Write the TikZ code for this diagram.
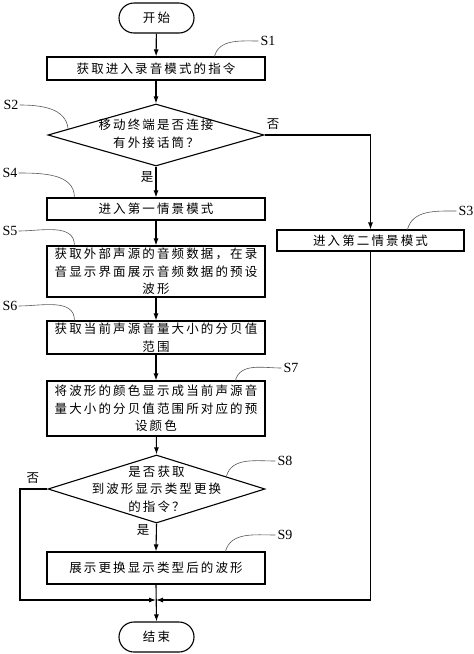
\documentclass[tikz,border=0pt]{standalone}
\usepackage{fontspec}
\setmainfont{Liberation Serif}
\newfontfamily\cjk[LetterSpace=17]{Noto Sans CJK SC}
\usetikzlibrary{shapes.geometric,arrows.meta,calc}
\begin{document}
\begin{tikzpicture}[x=1pt,y=1pt,
 box/.style={draw,line width=1.1pt,minimum width=218pt,inner sep=0pt},
 term/.style={draw,line width=1.1pt,rounded corners=15pt,minimum width=75pt,minimum height=30pt,inner sep=0pt},
 dia/.style={draw,diamond,line width=1.1pt,inner sep=0pt},
 txt/.style={font=\cjk\fontsize{12.5}{17.5}\selectfont,align=center,inner sep=0pt},
 lab/.style={font=\fontsize{14}{14}\selectfont,inner sep=0pt},
 lead/.style={draw=black!65,line width=0.6pt},
 arr/.style={draw,line width=1.1pt,-{Latex[length=7pt,width=5pt]}},
]
\useasboundingbox (0,0) rectangle (474,-654);

% nodes
\node[term,txt] (start) at (156.5,-18) {开始};
\node[box,txt,minimum height=23pt] (s1) at (156,-68.5) {获取进入录音模式的指令};
\node[dia,minimum width=216pt,minimum height=62pt] (s2) at (156,-135) {};
\node[txt] (t2) at (156,-134) {移动终端是否连接\\有外接话筒？};
\node[box,txt,minimum width=187pt,minimum height=21pt] (s3) at (370.5,-240.5) {进入第二情景模式};
\node[box,txt,minimum height=22pt] (s4) at (156,-209) {进入第一情景模式};
\node[box,txt,minimum height=51pt] (s5) at (156,-271.5) {获取外部声源的音频数据，在录\\音显示界面展示音频数据的预设\\波形};
\node[box,txt,minimum height=33pt] (s6) at (156,-337.5) {获取当前声源音量大小的分贝值\\范围};
\node[box,txt,minimum height=55pt] (s7) at (156,-408.5) {将波形的颜色显示成当前声源音\\量大小的分贝值范围所对应的预\\设颜色};
\node[dia,minimum width=217pt,minimum height=68pt] (s8) at (156.5,-489) {};
\node[txt] (t8) at (156.5,-489) {是否获取\\到波形显示类型更换\\的指令？};
\node[box,txt,minimum height=32pt] (s9) at (156,-568) {展示更换显示类型后的波形};
\node[term,txt] (end) at (156.5,-637) {结束};

% branch labels
\node[txt] (no2) at (273,-124) {否};
\node[txt] (yes2) at (147,-177) {是};
\node[txt] (no8) at (33,-478) {否};
\node[txt] (yes8) at (143,-530) {是};

% step labels
\node[lab] (ls1) at (268,-41) {S1};
\node[lab] (ls2) at (11,-105) {S2};
\node[lab] (ls3) at (466,-211) {S3};
\node[lab] (ls4) at (10,-173) {S4};
\node[lab] (ls5) at (10,-231) {S5};
\node[lab] (ls6) at (10,-306) {S6};
\node[lab] (ls7) at (291,-368) {S7};
\node[lab] (ls8) at (285,-461) {S8};
\node[lab] (ls9) at (285,-535) {S9};

% leader curves
\draw[lead] ([xshift=168pt]s1.north west) to[out=75,in=180] ([xshift=-2pt]ls1.west);
\draw[lead] ([xshift=1pt]ls2.east) to[out=0,in=95] ($(s2.west)!0.19!(s2.north)$);
\draw[lead] ([xshift=131pt]s3.north west) to[out=75,in=180] ([xshift=-2pt]ls3.west);
\draw[lead] ([xshift=1pt]ls4.east) to[out=0,in=90] ([xshift=28pt]s4.north west);
\draw[lead] ([xshift=1pt]ls5.east) to[out=0,in=90] ([xshift=28pt]s5.north west);
\draw[lead] ([xshift=1pt]ls6.east) to[out=0,in=90] ([xshift=28pt]s6.north west);
\draw[lead] ([xshift=189pt]s7.north west) to[out=75,in=180] ([xshift=-2pt]ls7.west);
\draw[lead] ($(s8.north)!0.64!(s8.east)$) to[out=75,in=180] ([xshift=-2pt]ls8.west);
\draw[lead] ([xshift=179pt]s9.north west) to[out=75,in=180] ([xshift=-2pt]ls9.west);

% connectors
\coordinate (j) at (156,-600);
\coordinate (n8) at (20,-489);
\draw[arr] (start) -- (s1);
\draw[arr] (s1) -- (s2.north);
\draw[arr] (s2.east) -| (s3.north);
\draw[arr] (s2.south) -- (s4.north);
\draw[arr] (s4) -- (s5);
\draw[arr] (s5) -- (s6);
\draw[arr] (s6) -- (s7);
\draw[arr] (s7) -- (s8.north);
\draw[arr] (s8.south) -- (s9.north);
\draw[arr] (s3.south) |- (j);
\draw[arr] (s8.west) -- (n8) |- (j);
\draw[arr] (s9.south) -- (end.north);
\end{tikzpicture}
\end{document}
